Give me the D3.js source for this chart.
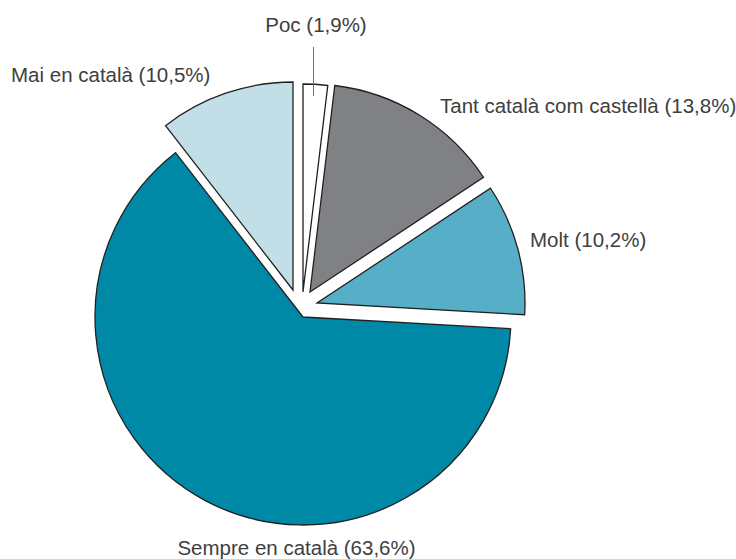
<!DOCTYPE html>
<html>
<head>
<meta charset="utf-8">
<script src="https://cdn.jsdelivr.net/npm/d3@7"></script>
<style>
  html, body { margin: 0; padding: 0; background: #fff; }
  svg text { font-family: "Liberation Sans", "Helvetica", sans-serif; font-weight: 400; fill: #404040; }
</style>
</head>
<body>
<svg id="chart" width="736" height="559"></svg>
<script>
// ---- data ----
const categories = ["Poc", "Tant català com castellà", "Molt", "Sempre en català", "Mai en català"];
const values = [1.9, 13.8, 10.2, 63.6, 10.5];
const valueLabels = ["1,9%", "13,8%", "10,2%", "63,6%", "10,5%"];

// ---- style / layout ----
const colors = ["#ffffff", "#808184", "#56aec7", "#0089a7", "#c2dfe7"];
const center = [303, 317];
const radius = 208;
// per-slice explode shifts (dx, dy) in px
const explode = [[0, -25], [7, -25], [14, -14], [0, 0], [-10, -27]];
// label anchor positions [x, y, anchor]
const labelPos = [[316, 32, "middle"], [440, 113, "start"], [530, 247, "start"], [296.5, 555, "middle"], [11, 82, "start"]];

const svg = d3.select("#chart");
const pie = d3.pie().sort(null).value(d => d.v).startAngle(0).endAngle(2 * Math.PI);
const data = categories.map((c, i) => ({ c, v: values[i], lab: valueLabels[i], i }));
const arcs = pie(data);
const arc = d3.arc().innerRadius(0).outerRadius(radius);

const g = svg.append("g").attr("transform", `translate(${center[0]},${center[1]})`);
g.selectAll("path").data(arcs).join("path")
  .attr("d", arc)
  .attr("transform", d => `translate(${explode[d.data.i][0]},${explode[d.data.i][1]})`)
  .attr("fill", d => colors[d.data.i])
  .attr("stroke", "#231f20")
  .attr("stroke-width", 1.3)
  .attr("stroke-linejoin", "miter");

// leader line for Poc
svg.append("line")
  .attr("x1", 313.5).attr("x2", 313.5).attr("y1", 47).attr("y2", 96)
  .attr("stroke", "#6d6e71").attr("stroke-width", 1);

svg.selectAll("text.lab").data(data).join("text")
  .attr("class", "lab")
  .attr("x", d => labelPos[d.i][0])
  .attr("y", d => labelPos[d.i][1])
  .attr("text-anchor", d => labelPos[d.i][2])
  .attr("font-size", 20.5)
  .text(d => `${d.c} (${d.lab})`);
</script>
</body>
</html>
